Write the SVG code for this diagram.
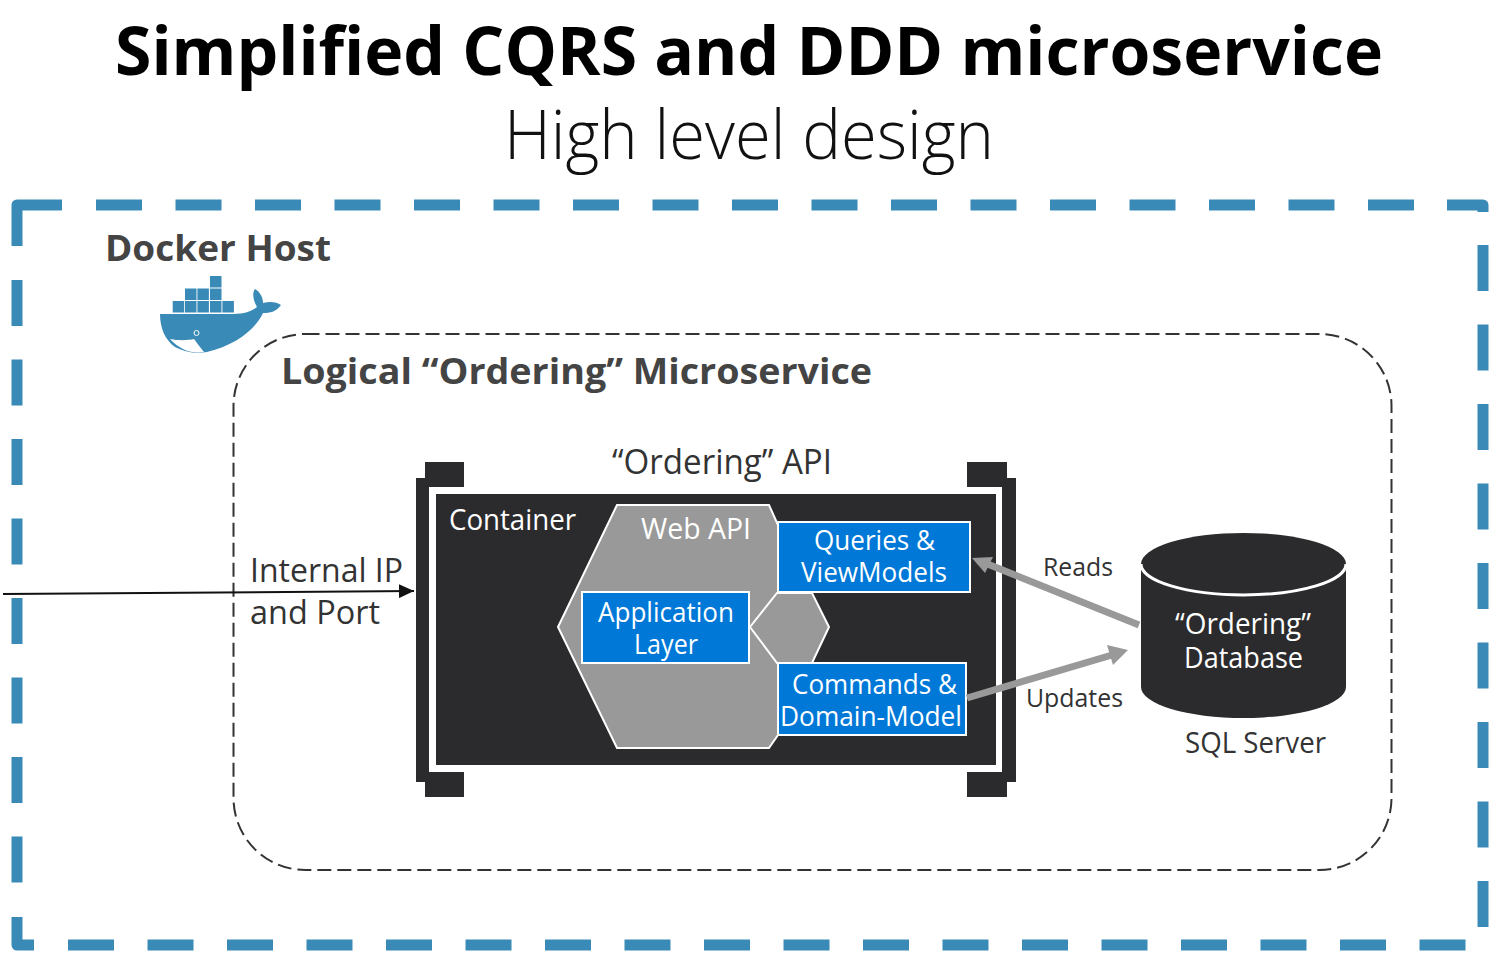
<svg xmlns="http://www.w3.org/2000/svg" width="1500" height="970" viewBox="0 0 1500 970">
<style>
text{font-family:"Open Sans","Noto Sans","Liberation Sans",sans-serif}
.h{fill:#3a8ab7;stroke:none}
.host{fill:none;stroke:#3a8ab7;stroke-width:11;stroke-linejoin:round}
.hd{stroke-dasharray:46 33.5}
.box{fill:#0078d7;stroke:#fff;stroke-width:2}
.hex{fill:#999;stroke:#fff;stroke-width:2}
.dk{fill:#2b2b2d}
.w{fill:#fff}
.t{fill:#333}
.b{fill:#444;font-weight:700}
.flow{stroke:#999;stroke-width:7;fill:none}
</style>
<defs>
<marker id="blk" markerUnits="userSpaceOnUse" markerWidth="16" markerHeight="14" refX="15" refY="7" orient="auto"><path d="M0,0L15,7L0,14Z" fill="#111"/></marker>
</defs>
<rect width="1500" height="970" fill="#fff"/>
<g id="title">
<text x="115" y="75" font-size="66" font-weight="700" fill="#000" textLength="1268" lengthAdjust="spacingAndGlyphs">Simplified CQRS and DDD microservice</text>
<text x="504" y="159" font-size="68" font-weight="300" fill="#111" textLength="490" lengthAdjust="spacingAndGlyphs">High level design</text>
</g>
<g id="docker-host">
<path class="host" d="M17,246V205H62"/>
<path class="host hd" d="M96,205H1420"/>
<path class="host" d="M1447,205H1483V212"/>
<path class="host hd" d="M1483,245V930"/>
<path class="host hd" d="M17,280V890"/>
<path class="host" d="M17,917V945H34"/>
<path class="host hd" d="M68,945H1470"/>
<text class="b" x="105" y="261" font-size="36" textLength="226" lengthAdjust="spacingAndGlyphs">Docker Host</text>
</g>
<g id="docker-logo">
<g class="h">
<rect x="172.700" y="301" width="11.500" height="11.500"/><rect x="185" y="301" width="11.500" height="11.500"/><rect x="197.400" y="301" width="11.500" height="11.500"/><rect x="210" y="301" width="11.500" height="11.500"/><rect x="222.400" y="301" width="11.500" height="11.500"/>
<rect x="185" y="288.500" width="11.500" height="11.500"/><rect x="197.400" y="288.500" width="11.500" height="11.500"/><rect x="210" y="288.500" width="11.500" height="11.500"/>
<rect x="210" y="276" width="11.500" height="11.500"/>
<path d="M160,314H233C245,314 252,311 257,307C253,300 252,293 255,289C260,292 263,297 263,303C270,301 277,302 281,305C276,312 270,313 263,313C255,330 235,345 207,352C195,354 185,352 175,347C165,340 160,328 160,314Z"/>
</g>
<path d="M170,339C180,341 190,340 194,339C197,343 200,347 204,352C192,354 180,350 170,339Z" fill="#fff"/>
<circle cx="196.500" cy="333" r="2.500" fill="none" stroke="#fff" stroke-width="1"/>
</g>
<g id="logical-microservice">
<rect x="233.500" y="334" width="1158" height="536" rx="72" ry="72" fill="none" stroke="#333" stroke-width="2" stroke-dasharray="14 6"/>
<text class="b" x="281" y="384" font-size="36" textLength="591" lengthAdjust="spacingAndGlyphs">Logical “Ordering” Microservice</text>
</g>
<g id="port-label" class="t">
<text x="250" y="582" font-size="32" textLength="153" lengthAdjust="spacingAndGlyphs">Internal IP</text>
<text x="250" y="624" font-size="32" textLength="130" lengthAdjust="spacingAndGlyphs">and Port</text>
</g>
<g id="container">
<text class="t" x="612" y="474" font-size="34" textLength="220" lengthAdjust="spacingAndGlyphs">“Ordering” API</text>
<rect class="dk" x="416" y="478" width="13" height="304"/>
<rect class="dk" x="1002" y="478" width="14" height="304"/>
<rect class="dk" x="425" y="462" width="39" height="25"/>
<rect class="dk" x="967" y="462" width="40" height="25"/>
<rect class="dk" x="425" y="772" width="39" height="25"/>
<rect class="dk" x="967" y="772" width="40" height="25"/>
<rect class="dk" x="436" y="494" width="560" height="271"/>
<text class="w" x="449" y="530" font-size="30" textLength="127" lengthAdjust="spacingAndGlyphs">Container</text>
</g>
<g id="web-api">
<polygon class="hex" points="558,627 617,505 769,505 778,525 778,735 769,748 617,748"/>
<text class="w" x="641" y="539" font-size="29" textLength="110" lengthAdjust="spacingAndGlyphs">Web API</text>
</g>
<g id="domain-hex">
<polygon class="hex" points="750,627 777,593 812,593 829,627 812,663 777,663"/>
</g>
<g id="queries">
<rect class="box" x="778" y="522" width="192" height="70"/>
<text class="w" x="814" y="550" font-size="27" textLength="121" lengthAdjust="spacingAndGlyphs">Queries &amp;</text>
<text class="w" x="801" y="582" font-size="27" textLength="146" lengthAdjust="spacingAndGlyphs">ViewModels</text>
</g>
<g id="application">
<rect class="box" x="582" y="592" width="167" height="71"/>
<text class="w" x="598" y="622" font-size="27" textLength="136" lengthAdjust="spacingAndGlyphs">Application</text>
<text class="w" x="634" y="654" font-size="27" textLength="64" lengthAdjust="spacingAndGlyphs">Layer</text>
</g>
<g id="commands">
<rect class="box" x="778" y="663" width="188" height="72"/>
<text class="w" x="792" y="694" font-size="27" textLength="165" lengthAdjust="spacingAndGlyphs">Commands &amp;</text>
<text class="w" x="780" y="726" font-size="27" textLength="182" lengthAdjust="spacingAndGlyphs">Domain-Model</text>
</g>
<g id="flow-labels" class="t">
<text x="1043" y="576" font-size="26" textLength="70" lengthAdjust="spacingAndGlyphs">Reads</text>
<text x="1026" y="707" font-size="26" textLength="97" lengthAdjust="spacingAndGlyphs">Updates</text>
</g>
<g id="database">
<path class="dk" d="M1141,564A102.500,31 0 0 1 1346,564V687A102.500,31 0 0 1 1141,687Z"/>
<path d="M1141,564A102.500,31 0 0 0 1346,564" fill="none" stroke="#fff" stroke-width="3"/>
<text class="w" x="1175" y="634" font-size="30" textLength="136" lengthAdjust="spacingAndGlyphs">“Ordering”</text>
<text class="w" x="1184" y="668" font-size="30" textLength="119" lengthAdjust="spacingAndGlyphs">Database</text>
<text class="t" x="1185" y="753" font-size="29" textLength="141" lengthAdjust="spacingAndGlyphs">SQL Server</text>
</g>
<g id="connectors">
<path d="M3,594L414,591" stroke="#111" stroke-width="2" fill="none" marker-end="url(#blk)"/>
<path class="flow" d="M1139,625L985,563"/>
<path d="M972,558L993,557L985,573Z" fill="#999"/>
<path class="flow" d="M967,698L1112,655"/>
<path d="M1128,650L1107,645L1113,665Z" fill="#999"/>
</g>
</svg>
